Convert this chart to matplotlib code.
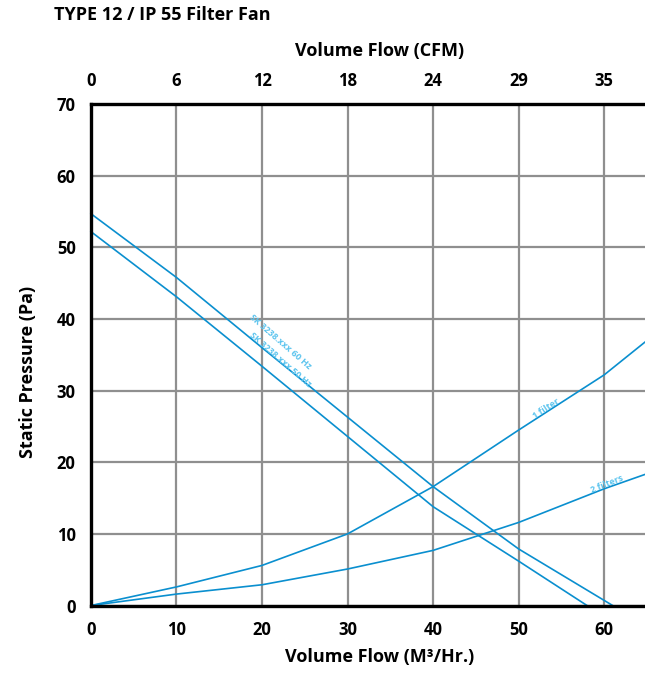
import matplotlib.pyplot as plt

# volume flow (m3/h) sample points for each curve
fan_a_flow = [0, 10, 20, 30, 40, 50, 61]
fan_a_pressure = [54.7, 45.8, 36.0, 26.3, 16.6, 7.9, 0]
fan_b_flow = [0, 10, 20, 30, 40, 50, 58]
fan_b_pressure = [52.2, 43.1, 33.4, 23.6, 13.8, 6.2, 0]

sys_steep_flow = [0, 10, 20, 30, 40, 50, 60, 65]
sys_steep_pressure = [0, 2.6, 5.6, 10.0, 16.6, 24.5, 32.2, 37.0]
sys_flat_flow = [0, 10, 20, 30, 40, 50, 60, 65]
sys_flat_pressure = [0, 1.6, 2.9, 5.1, 7.7, 11.6, 16.3, 18.4]

x_ticks = [0, 10, 20, 30, 40, 50, 60]
cfm_labels = ["0", "6", "12", "18", "24", "29", "35"]
y_ticks = [0, 10, 20, 30, 40, 50, 60, 70]

LINE = "#0a8fcf"
GRID = "#8f8f8f"
LABEL = "#5cc4ee"

plt.rcParams["font.family"] = ["Open Sans", "DejaVu Sans"]
plt.rcParams["font.weight"] = "bold"

fig = plt.figure(figsize=(6.45, 6.85), dpi=100)
ax = fig.add_axes([0.141, 0.116, 0.862, 0.732])

for xs, ys in [(fan_a_flow, fan_a_pressure), (fan_b_flow, fan_b_pressure),
               (sys_steep_flow, sys_steep_pressure), (sys_flat_flow, sys_flat_pressure)]:
    ax.plot(xs, ys, color=LINE, linewidth=1.2, zorder=3, clip_on=False)

ax.set_xlim(0, 65)
ax.set_ylim(0, 70)
ax.set_xticks(x_ticks)
ax.set_yticks(y_ticks)
ax.grid(True, color=GRID, linewidth=1.6)
ax.set_axisbelow(True)
ax.tick_params(length=0, labelsize=12, pad=11)
for side in ["left", "top", "bottom"]:
    ax.spines[side].set_linewidth(2.4)
    ax.spines[side].set_zorder(4)
ax.spines["right"].set_visible(False)

ax.set_xlabel("Volume Flow (M³/Hr.)", fontsize=13, fontweight="bold")
ax.set_ylabel("Static Pressure (Pa)", fontsize=13, fontweight="bold")
ax.xaxis.set_label_coords(0.52, -0.085)
ax.yaxis.set_label_coords(-0.097, 0.465)

top = ax.twiny()
top.set_xlim(ax.get_xlim())
top.set_xticks(x_ticks)
top.set_xticklabels(cfm_labels)
top.tick_params(length=0, labelsize=12, pad=10)
top.set_xlabel("Volume Flow (CFM)", fontsize=13, fontweight="bold")
top.xaxis.set_label_coords(0.52, 1.095)
for side in top.spines:
    top.spines[side].set_visible(False)

# curve labels (tiny, along the lines)
ax.text(21.8, 36.3, "SK 3238.xxx 60 Hz", fontsize=6.5, color=LABEL, rotation=-41,
        ha="center", va="bottom", rotation_mode="anchor")
ax.text(21.8, 33.8, "SK 3238.xxx 50 Hz", fontsize=6.5, color=LABEL, rotation=-41,
        ha="center", va="bottom", rotation_mode="anchor")
ax.text(53.5, 27.0, "1 filter", fontsize=6.5, color=LABEL, rotation=33,
        ha="center", va="bottom", rotation_mode="anchor")
ax.text(60.5, 16.3, "2 filters", fontsize=6.5, color=LABEL, rotation=22,
        ha="center", va="bottom", rotation_mode="anchor")

fig.text(0.083, 0.978, "TYPE 12 / IP 55 Filter Fan", fontsize=13, fontweight="bold",
         ha="left", va="center")

fig.savefig("out.png", dpi=100)
